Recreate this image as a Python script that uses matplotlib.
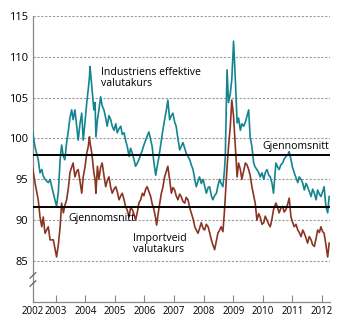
import numpy as np
import pandas as pd
import matplotlib
matplotlib.use("Agg")
import matplotlib.pyplot as plt

plt.rcParams['font.family'] = ['Open Sans', 'DejaVu Sans']

# readings (decimal year) from Mar 2002 to Apr 2012
aar = [
    2002.22, 2002.30, 2002.41, 2002.47, 2002.53, 2002.58, 2002.64, 2002.75, 2002.81, 2002.92,
    2003.03, 2003.09, 2003.15, 2003.20, 2003.26, 2003.31, 2003.37, 2003.43, 2003.48, 2003.54,
    2003.59, 2003.65, 2003.71, 2003.76, 2003.82, 2003.88, 2003.93, 2003.99, 2004.05, 2004.10,
    2004.14, 2004.16, 2004.22, 2004.29, 2004.33, 2004.36, 2004.41, 2004.46, 2004.52, 2004.57,
    2004.63, 2004.69, 2004.74, 2004.80, 2004.86, 2004.91, 2004.97, 2005.03, 2005.08, 2005.14,
    2005.20, 2005.25, 2005.31, 2005.36, 2005.42, 2005.48, 2005.53, 2005.59, 2005.64, 2005.70,
    2005.76, 2005.81, 2005.87, 2005.93, 2005.98, 2006.04, 2006.09, 2006.15, 2006.21, 2006.26,
    2006.32, 2006.38, 2006.41, 2006.49, 2006.57, 2006.62, 2006.68, 2006.74, 2006.79, 2006.85,
    2006.91, 2006.96, 2007.02, 2007.07, 2007.13, 2007.19, 2007.24, 2007.30, 2007.36, 2007.41,
    2007.47, 2007.53, 2007.58, 2007.64, 2007.70, 2007.75, 2007.81, 2007.86, 2007.92, 2007.98,
    2008.03, 2008.09, 2008.15, 2008.20, 2008.26, 2008.31, 2008.37, 2008.43, 2008.48, 2008.54,
    2008.59, 2008.65, 2008.70, 2008.73, 2008.79, 2008.84, 2008.90, 2008.95, 2009.01, 2009.07,
    2009.13, 2009.18, 2009.24, 2009.29, 2009.35, 2009.41, 2009.46, 2009.52, 2009.57, 2009.63,
    2009.69, 2009.74, 2009.80, 2009.86, 2009.91, 2009.97, 2010.03, 2010.08, 2010.14, 2010.20,
    2010.25, 2010.31, 2010.36, 2010.44, 2010.50, 2010.55, 2010.61, 2010.67, 2010.72, 2010.78,
    2010.84, 2010.89, 2010.95, 2011.00, 2011.06, 2011.12, 2011.18, 2011.23, 2011.29, 2011.35,
    2011.40, 2011.46, 2011.51, 2011.57, 2011.63, 2011.68, 2011.74, 2011.80, 2011.85, 2011.91,
    2011.96, 2012.02, 2012.07, 2012.13, 2012.19, 2012.24,
]

industri = [
    100.8, 99.0, 97.4, 95.8, 96.2, 95.4, 95.0, 94.6, 95.0, 93.3,
    91.7, 93.5, 97.4, 99.2, 97.8, 97.4, 99.5, 101.0, 102.5, 103.5,
    102.3, 103.5, 101.5, 99.8, 101.8, 103.1, 99.8, 102.0, 104.4, 106.0,
    107.5, 108.8, 106.3, 103.5, 104.4, 100.2, 102.3, 103.5, 105.1, 104.0,
    103.5, 102.5, 101.5, 102.8, 102.3, 101.5, 101.0, 101.8, 100.7, 101.2,
    101.5, 100.5, 100.7, 99.8, 99.0, 97.8, 98.8, 98.2, 97.5, 96.6,
    97.0, 97.4, 98.0, 98.6, 99.2, 99.8, 100.3, 100.8, 99.8, 99.0,
    97.0, 95.5, 96.2, 97.8, 99.8, 101.0, 102.3, 103.5, 104.7, 102.3,
    102.8, 103.1, 102.0, 101.5, 100.0, 98.6, 99.0, 99.5, 98.8, 98.2,
    97.8, 97.4, 96.8, 96.2, 95.0, 94.1, 94.8, 95.3, 94.5, 95.0,
    94.2, 93.3, 94.0, 94.1, 93.0, 92.5, 93.0, 93.3, 94.2, 95.0,
    94.5, 94.1, 96.0, 97.8, 108.4, 104.4, 105.5, 107.2, 111.9, 107.2,
    101.9, 102.5, 101.0, 101.8, 101.5, 102.0, 102.7, 103.5, 100.2, 99.0,
    97.0, 96.5, 96.2, 95.8, 95.3, 95.8, 95.0, 95.8, 96.2, 95.5,
    95.3, 94.5, 93.3, 97.0, 96.5, 96.2, 96.8, 97.0, 97.5, 97.8,
    98.0, 98.4, 97.4, 96.5, 95.8, 95.2, 94.6, 95.3, 95.0, 94.5,
    93.7, 94.5, 94.1, 93.5, 92.9, 93.8, 93.3, 92.5, 93.7, 93.2,
    92.9, 93.5, 94.1, 91.7, 90.9, 92.9,
]

importveid = [
    96.4, 94.6, 92.5, 90.4, 89.2, 90.4, 88.4, 89.2, 87.6, 87.6,
    85.5, 87.0, 89.2, 92.1, 90.9, 91.8, 92.5, 94.0, 95.8, 96.5,
    97.0, 95.3, 96.0, 96.2, 94.8, 93.3, 95.3, 96.5, 98.2, 99.0,
    100.2, 99.5, 98.2, 95.8, 95.0, 93.3, 96.6, 95.0, 96.5, 97.0,
    95.5, 94.1, 94.8, 95.3, 94.0, 93.3, 93.8, 94.1, 93.5, 92.5,
    93.0, 93.3, 92.5, 91.7, 91.2, 90.4, 91.5, 91.3, 90.8, 90.0,
    91.0, 92.1, 92.5, 93.3, 93.0, 93.8, 94.1, 93.5, 92.9, 92.0,
    91.3, 90.2, 89.4, 91.5, 93.3, 94.0, 95.3, 96.0, 96.6, 95.0,
    93.3, 94.0, 93.7, 93.0, 92.5, 93.2, 92.9, 92.3, 92.1, 92.8,
    92.5, 91.5, 90.9, 90.2, 89.2, 88.8, 88.4, 89.0, 89.7, 89.0,
    88.8, 89.5, 89.2, 88.5, 87.6, 87.0, 86.4, 87.5, 88.4, 88.8,
    89.2, 88.6, 91.0, 92.9, 96.5, 99.0, 101.5, 104.7, 102.7, 99.0,
    95.3, 97.0, 96.2, 95.0, 96.0, 97.0, 96.8, 96.2, 95.5, 94.1,
    93.0, 92.1, 90.0, 90.8, 90.4, 89.5, 89.7, 90.5, 90.0, 89.5,
    89.2, 90.2, 91.3, 92.1, 91.5, 90.9, 91.5, 91.7, 91.0, 91.3,
    92.0, 92.7, 90.4, 89.8, 89.2, 89.5, 88.8, 88.5, 88.0, 88.8,
    88.4, 87.8, 87.2, 88.0, 87.6, 87.0, 86.8, 87.8, 88.8, 88.5,
    89.2, 88.6, 88.4, 87.0, 85.5, 87.2,
]

snitt_industri = 98.0
snitt_import = 91.6

year_ticks = list(range(2003, 2013))
yticks = [85, 90, 95, 100, 105, 110, 115]

fig = plt.figure(figsize=(3.5, 3.24), dpi=100)
ax = fig.add_axes([0.094, 0.068, 0.849, 0.883])

x0, x1 = 2002.23, 2012.27
ax.set_xlim(x0, x1)
ax.set_ylim(80, 115)

for y in yticks:
    ax.axhline(y, color='#999999', lw=0.8, ls=(0, (2, 1.5)), zorder=1)

ax.plot(aar, industri, color='#14858f', lw=1.2, zorder=3)
ax.plot(aar, importveid, color='#8a3524', lw=1.2, zorder=3)
ax.axhline(snitt_industri, color='black', lw=1.4, zorder=4)
ax.axhline(snitt_import, color='black', lw=1.4, zorder=4)

fs = 7.6
ax.text(2004.52, 107.4, 'Industriens effektive\nvalutakurs', fontsize=fs, va='center', linespacing=1.1)
ax.text(2005.6, 87.1, 'Importveid\nvalutakurs', fontsize=fs, va='center', linespacing=1.1)
ax.text(2009.98, 98.3, 'Gjennomsnitt', fontsize=fs, va='bottom')
ax.text(2003.43, 90.2, 'Gjennomsnitt', fontsize=fs, va='center')

for s in ['top', 'right']:
    ax.spines[s].set_visible(False)
for s in ['left', 'bottom']:
    ax.spines[s].set_color('#888888')
    ax.spines[s].set_linewidth(0.9)

ax.set_yticks(yticks)
ax.tick_params(axis='y', length=0, labelsize=8, pad=3.5)
ax.set_xticks([x0] + year_ticks)
ax.set_xticklabels(['2002'] + [str(y) for y in year_ticks])
ax.tick_params(axis='x', direction='in', length=5, color='#888888', labelsize=7, pad=3)
ax.xaxis.get_major_ticks()[0].tick1line.set_visible(False)

# axis break mark
for dy in (-0.5, 0.5):
    ax.plot([x0 - 0.1, x0 + 0.1], [82.4 + dy, 83.1 + dy], color='#555555', lw=0.8,
            clip_on=False, zorder=5)

fig.savefig('out.png', dpi=100)
